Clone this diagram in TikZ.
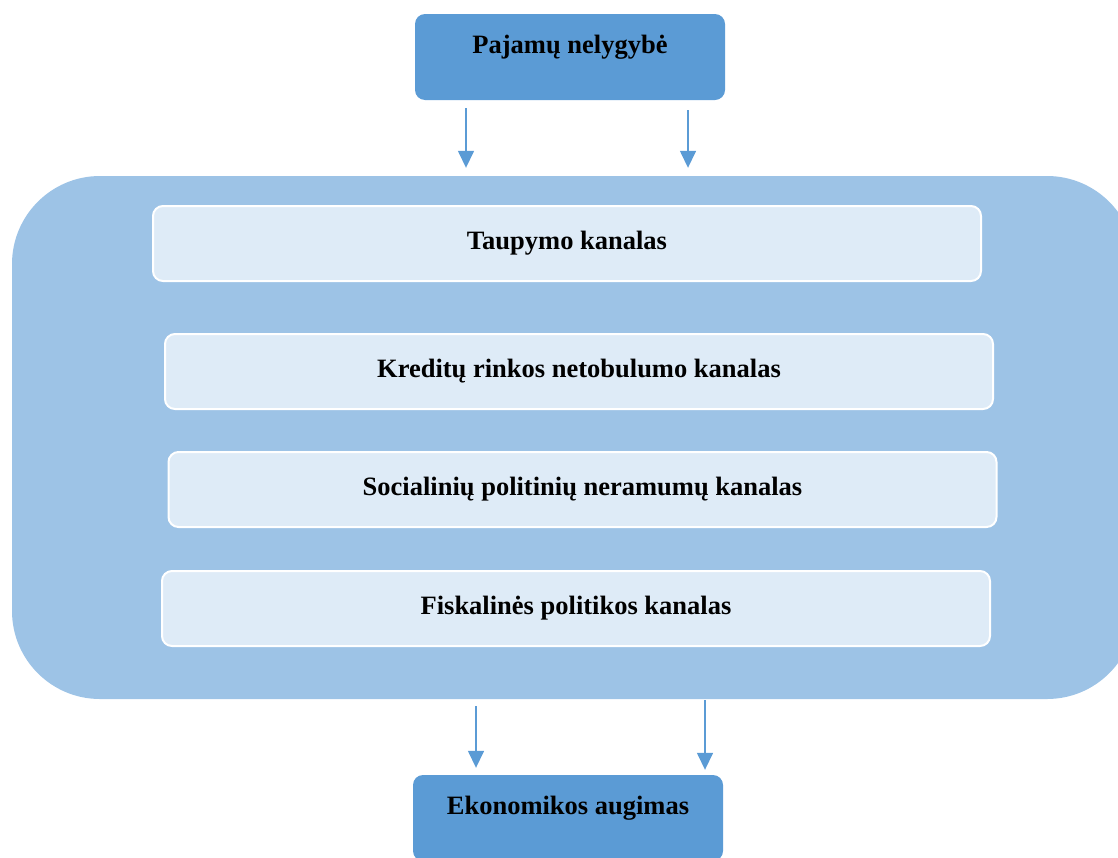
\documentclass[tikz,border=0pt]{standalone}
\usepackage{fontspec}
\setmainfont{Liberation Serif}
\usepackage{tikz}
\usetikzlibrary{positioning}
\usetikzlibrary{arrows.meta}
\definecolor{darkblue}{HTML}{5B9BD5}
\definecolor{midblue}{HTML}{9DC3E6}
\definecolor{paleblue}{HTML}{DEEBF7}
\tikzstyle{arrow} = [darkblue,line width=1.5pt,-{Triangle[width=16pt,length=17pt]}]

\begin{document}
\begin{tikzpicture}[x=1pt,y=-1pt,
  font=\fontsize{26.5}{30}\selectfont\bfseries,
  endbox/.style = {rectangle,fill=darkblue,rounded corners=10pt,
        minimum width=310pt,minimum height=86pt,inner sep=8pt,
        text height=31pt,text depth=39pt,align=center},
  panel/.style = {rectangle,fill=midblue,rounded corners=88pt,
        minimum width=1123pt,minimum height=523pt},
  chan/.style = {rectangle,draw=white,line width=2pt,fill=paleblue,
        rounded corners=10pt,minimum width=828pt,minimum height=75pt,
        align=center}
]
 \useasboundingbox (0,0) rectangle (1118,857);
 \node[panel] (pan) at (573.5,437.5) {};
 \node[endbox] (ineq) at (570,57) {Pajamų nelygybė};
 \node[endbox] (growth) at (568,818) {Ekonomikos augimas};
 \node[chan] (c1) at (567,243.5) {Taupymo kanalas};
 \node[chan] (c2) at (579,371.5) {Kreditų rinkos netobulumo kanalas};
 \node[chan] (c3) at (582.5,489.5) {Socialinių politinių neramumų kanalas};
 \node[chan] (c4) at (576,608.5) {Fiskalinės politikos kanalas};
 % arrows in and out of the panel
 \draw[arrow] ([xshift=-104pt,yshift=-8pt]ineq.south) -- ([yshift=8pt]pan.north -| 466,0);
 \draw[arrow] ([xshift=118pt,yshift=-10pt]ineq.south) -- ([yshift=8pt]pan.north -| 688,0);
 \draw[arrow] ([yshift=-7pt]pan.south -| 476,0) -- ([yshift=7pt]growth.north -| 476,0);
 \draw[arrow] ([yshift=-1pt]pan.south -| 705,0) -- ([yshift=5pt]growth.north -| 705,0);
\end{tikzpicture}
\end{document}
